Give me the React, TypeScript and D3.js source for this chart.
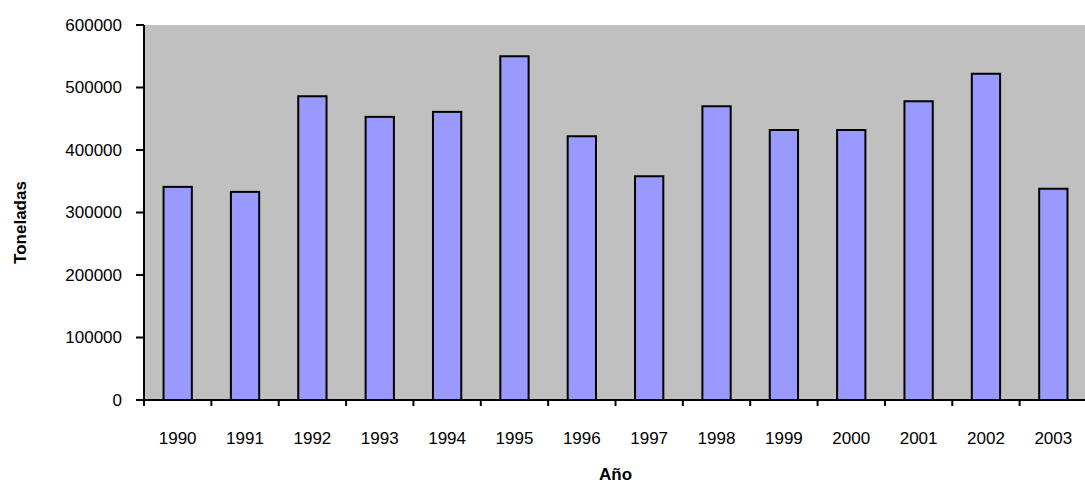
import React from 'react';
import * as d3 from 'd3';

const years = ['1990', '1991', '1992', '1993', '1994', '1995', '1996', '1997', '1998', '1999', '2000', '2001', '2002', '2003'];
const tons = [341000, 333000, 486000, 453000, 461000, 550000, 422000, 358000, 470000, 432000, 432000, 478000, 522000, 338000];
const yTicks = [0, 100000, 200000, 300000, 400000, 500000, 600000];

const W = 1085;
const H = 483;
const margin = { top: 25, right: -2, bottom: 83, left: 144 };

export default function App() {
  const innerW = W - margin.left - margin.right;
  const innerH = H - margin.top - margin.bottom;
  const x = d3.scaleBand().domain(years).range([0, innerW]).paddingInner(0.58).paddingOuter(0.29);
  const y = d3.scaleLinear().domain([0, 600000]).range([innerH, 0]);
  const step = x.step();
  const x0 = x(years[0])! - x.paddingOuter() * step;
  const font = '"Liberation Sans", Arial, sans-serif';

  return (
    <svg width={W} height={H} style={{ position: 'absolute', left: 0, top: 0 }} fontFamily={font}>
      <g transform={`translate(${margin.left},${margin.top})`}>
        <rect x={0} y={0} width={innerW} height={innerH} fill="#c0c0c0" />
        {years.map((yr, i) => (
          <rect key={yr} x={x(yr)} y={y(tons[i])} width={x.bandwidth()} height={innerH - y(tons[i])}
            fill="#9999ff" stroke="#000" strokeWidth={2} />
        ))}
        <line x1={0} x2={0} y1={0} y2={innerH + 6} stroke="#000" strokeWidth={2} />
        <line x1={-8} x2={innerW} y1={innerH} y2={innerH} stroke="#000" strokeWidth={2} />
        {yTicks.map(t => (
          <g key={t} transform={`translate(0,${y(t)})`}>
            <line x1={-8} x2={0} stroke="#000" strokeWidth={2} />
            <text x={-22} dy="0.35em" textAnchor="end" fontSize={17}>{t}</text>
          </g>
        ))}
        {years.map((yr, i) => (
          <g key={yr}>
            <line x1={x0 + i * step} x2={x0 + i * step} y1={innerH} y2={innerH + 6} stroke="#000" strokeWidth={2} />
            <text x={x(yr)! + x.bandwidth() / 2} y={innerH + 44} textAnchor="middle" fontSize={17}>{yr}</text>
          </g>
        ))}
        <text x={innerW / 2} y={innerH + 80} textAnchor="middle" fontSize={17} fontWeight="bold">Año</text>
        <text transform={`translate(${-118},${innerH / 2 + 10}) rotate(-90)`} textAnchor="middle" fontSize={17} fontWeight="bold">Toneladas</text>
      </g>
    </svg>
  );
}
